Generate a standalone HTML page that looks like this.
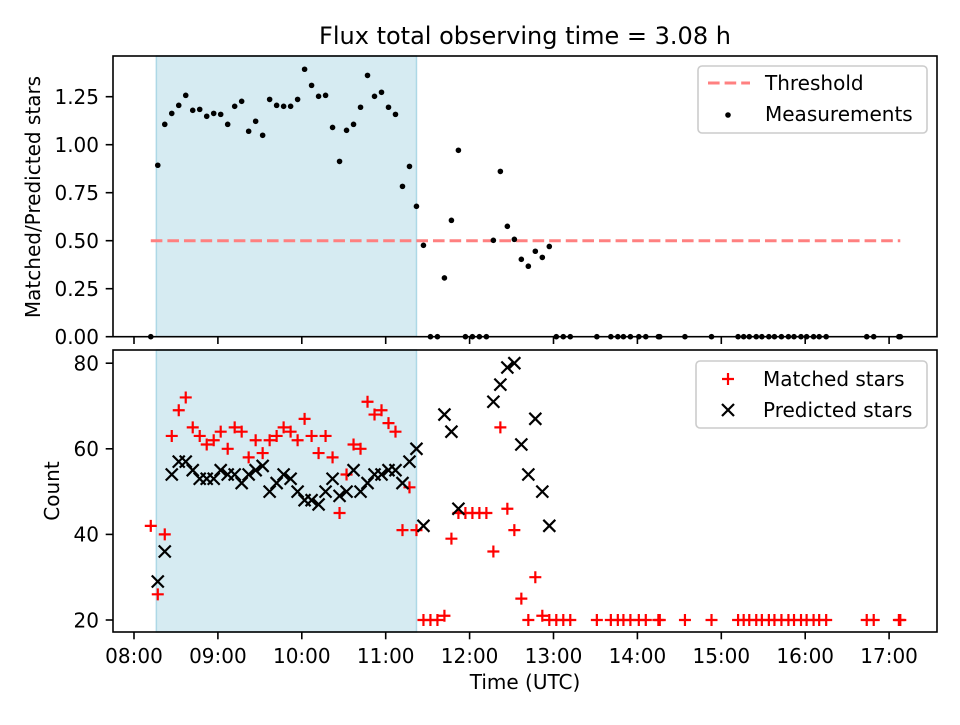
<!DOCTYPE html>
<html><head><meta charset="utf-8"><style>
body{margin:0;background:#fff;}
svg text{font-family:"DejaVu Sans","Liberation Sans",sans-serif;fill:#000;}
</style></head><body>
<svg id="chart" width="960" height="720" viewBox="0 0 960 720" xmlns="http://www.w3.org/2000/svg"></svg>
<script>
const times = ["08:12","08:17","08:22","08:27","08:32","08:37","08:42","08:47","08:52","08:57","09:02","09:07","09:12","09:17","09:22","09:27","09:32","09:37","09:42","09:47","09:52","09:57","10:02","10:07","10:12","10:17","10:22","10:27","10:32","10:37","10:42","10:47","10:52","10:57","11:02","11:07","11:12","11:17","11:22","11:27","11:32","11:37","11:42","11:47","11:52","11:57","12:02","12:07","12:12","12:17","12:22","12:27","12:32","12:37","12:42","12:47","12:52","12:57","13:02","13:07","13:12","13:31","13:41","13:46","13:50","13:55","14:01","14:06","14:15","14:16","14:34","14:53","15:12","15:16","15:20","15:25","15:29","15:34","15:38","15:43","15:48","15:52","15:57","16:01","16:06","16:10","16:15","16:44","16:49","17:07","17:08"];
const ratio = [0,0.893,1.106,1.163,1.205,1.257,1.179,1.184,1.148,1.163,1.158,1.106,1.2,1.226,1.07,1.122,1.049,1.236,1.205,1.2,1.2,1.236,1.393,1.309,1.252,1.257,1.09,0.913,1.075,1.106,1.195,1.361,1.252,1.273,1.195,1.158,0.783,0.887,0.679,0.476,0,0,0.306,0.606,0.971,0,0,0,0,0.502,0.861,0.575,0.507,0.403,0.367,0.445,0.413,0.47,0,0,0,0,0,0,0,0,0,0,0,0,0,0,0,0,0,0,0,0,0,0,0,0,0,0,0,0,0,0,0,0,0];
const matched = [42,26,40,63,69,72,65,63,61,62,64,60,65,64,58,62,59,62,63,65,64,62,67,63,59,63,58,45,54,61,60,71,68,69,66,64,41,51,41,20,20,20,21,39,45,45,45,45,45,36,65,46,41,25,20,30,21,20,20,20,20,20,20,20,20,20,20,20,20,20,20,20,20,20,20,20,20,20,20,20,20,20,20,20,20,20,20,20,20,20,20];
const predicted = [null,29,36,54,57,57,55,53,53,53,55,54,54,52,54,55,56,50,52,54,53,50,48,48,47,50,53,49,50,55,50,52,54,54,55,55,52,57,60,42,null,null,68,64,46,null,null,null,null,71,75,79,80,61,54,67,50,42];
const spanTimes = ["08:16","11:22"];
const threshold = 0.5;
const yTicksTop = [0,0.25,0.5,0.75,1.0,1.25];
const yTicksBot = [20,40,60,80];
const xTickLabels = ["08:00","09:00","10:00","11:00","12:00","13:00","14:00","15:00","16:00","17:00"];

const NS="http://www.w3.org/2000/svg";
const svg=document.getElementById('chart');
function mk(tag,attrs,parent){const e=document.createElementNS(NS,tag);for(const k in attrs)e.setAttribute(k,attrs[k]);(parent||svg).appendChild(e);return e;}
function tmin(s){const p=s.split(':');return (+p[0])*60+(+p[1]);}
const L=113,R=937;
const T1=56,B1=336.7,T2=350,B2=632;
const FS=20;
const x=t=>134+(tmin(t)-480)/60*83.9;
const yTop=v=>336.7-v*192;
const yBot=v=>620-(v-20)*4.28;

let t=mk('text',{x:525,y:44,'text-anchor':'middle','font-size':'24'});t.textContent='Flux total observing time = 3.08 h';



function axes(T,B,name){
  const g=mk('g',{});
  
  
  const sp=mk('rect',{x:x(spanTimes[0]),y:T,width:x(spanTimes[1])-x(spanTimes[0]),height:B-T,fill:'#add8e6','fill-opacity':0.5,stroke:'#add8e6','stroke-width':1.5},g);
  
  
  return g;
}
function frame(T,B,g){
  mk('rect',{x:L,y:T,width:R-L,height:B-T,fill:'none',stroke:'#000','stroke-width':1.6},g);
  xTickLabels.forEach(lb=>{
    const xx=x(lb);
    mk('line',{x1:xx,x2:xx,y1:B,y2:B+7.3,stroke:'#000','stroke-width':1.6},g);
  });
}
const gt=axes(T1,B1,'ratio-axes');
const th=mk('line',{x1:x(times[0]),x2:x(times[times.length-1]),y1:yTop(threshold),y2:yTop(threshold),stroke:'#ff8080','stroke-width':3,'stroke-dasharray':'11.6,5'},gt);


ratio.forEach((v,i)=>{
  const c=mk('circle',{cx:x(times[i]),cy:yTop(v),r:2.8,fill:'#000'},gt);
  
  
});
frame(T1,B1,gt);
yTicksTop.forEach(v=>{
  const yy=yTop(v);
  mk('line',{x1:L-7.3,x2:L,y1:yy,y2:yy,stroke:'#000','stroke-width':1.6},gt);
  const tx=mk('text',{x:L-14,y:yy+7.3,'text-anchor':'end','font-size':FS},gt);tx.textContent=v.toFixed(2);
  
  
});
let yl=mk('text',{x:0,y:0,'text-anchor':'middle','font-size':FS,transform:'translate(40,197) rotate(-90)'});yl.textContent='Matched/Predicted stars';



const gb=axes(T2,B2,'count-axes');
function plus(cx,cy,g){return mk('path',{d:`M${cx-6},${cy}H${cx+6}M${cx},${cy-6}V${cy+6}`,stroke:'#ff0000','stroke-width':2.2,fill:'none'},g);}
function cross(cx,cy,g){return mk('path',{d:`M${cx-6},${cy-6}L${cx+6},${cy+6}M${cx-6},${cy+6}L${cx+6},${cy-6}`,stroke:'#000','stroke-width':2.2,fill:'none'},g);}
matched.forEach((v,i)=>{
  const p=plus(x(times[i]),yBot(v),gb);
  
  
});
predicted.forEach((v,i)=>{
  if(v===null)return;
  const p=cross(x(times[i]),yBot(v),gb);
  
  
});
frame(T2,B2,gb);
yTicksBot.forEach(v=>{
  const yy=yBot(v);
  mk('line',{x1:L-7.3,x2:L,y1:yy,y2:yy,stroke:'#000','stroke-width':1.6},gb);
  const tx=mk('text',{x:L-14,y:yy+7.3,'text-anchor':'end','font-size':FS},gb);tx.textContent=v;
  
  
});
xTickLabels.forEach(lb=>{
  const tx=mk('text',{x:x(lb),y:B2+31,'text-anchor':'middle','font-size':FS},gb);tx.textContent=lb;
  
  
});
let yl2=mk('text',{x:0,y:0,'text-anchor':'middle','font-size':FS,transform:'translate(59,491) rotate(-90)'});yl2.textContent='Count';


let xl=mk('text',{x:525,y:689,'text-anchor':'middle','font-size':FS});xl.textContent='Time (UTC)';



function legendBox(x0,y0,w,h,name){
  const g=mk('g',{});
  
  
  mk('rect',{x:x0,y:y0,width:w,height:h,rx:4,fill:'#fff','fill-opacity':0.8,stroke:'#cccccc','stroke-width':1.6},g);
  return g;
}
const lg1=legendBox(698,66,229,67,'ratio-legend');
mk('line',{x1:708,x2:750,y1:83,y2:83,stroke:'#ff8080','stroke-width':3,'stroke-dasharray':'11.6,5'},lg1);
let lt=mk('text',{x:765,y:90,'font-size':FS},lg1);lt.textContent='Threshold';
mk('circle',{cx:728,cy:115,r:2.8,fill:'#000'},lg1);
lt=mk('text',{x:765,y:121,'font-size':FS},lg1);lt.textContent='Measurements';
const lg2=legendBox(696,361,231,67,'count-legend');
plus(728,379,lg2);
lt=mk('text',{x:763,y:386,'font-size':FS},lg2);lt.textContent='Matched stars';
cross(728,410,lg2);
lt=mk('text',{x:763,y:417,'font-size':FS},lg2);lt.textContent='Predicted stars';
</script>
</body></html>
